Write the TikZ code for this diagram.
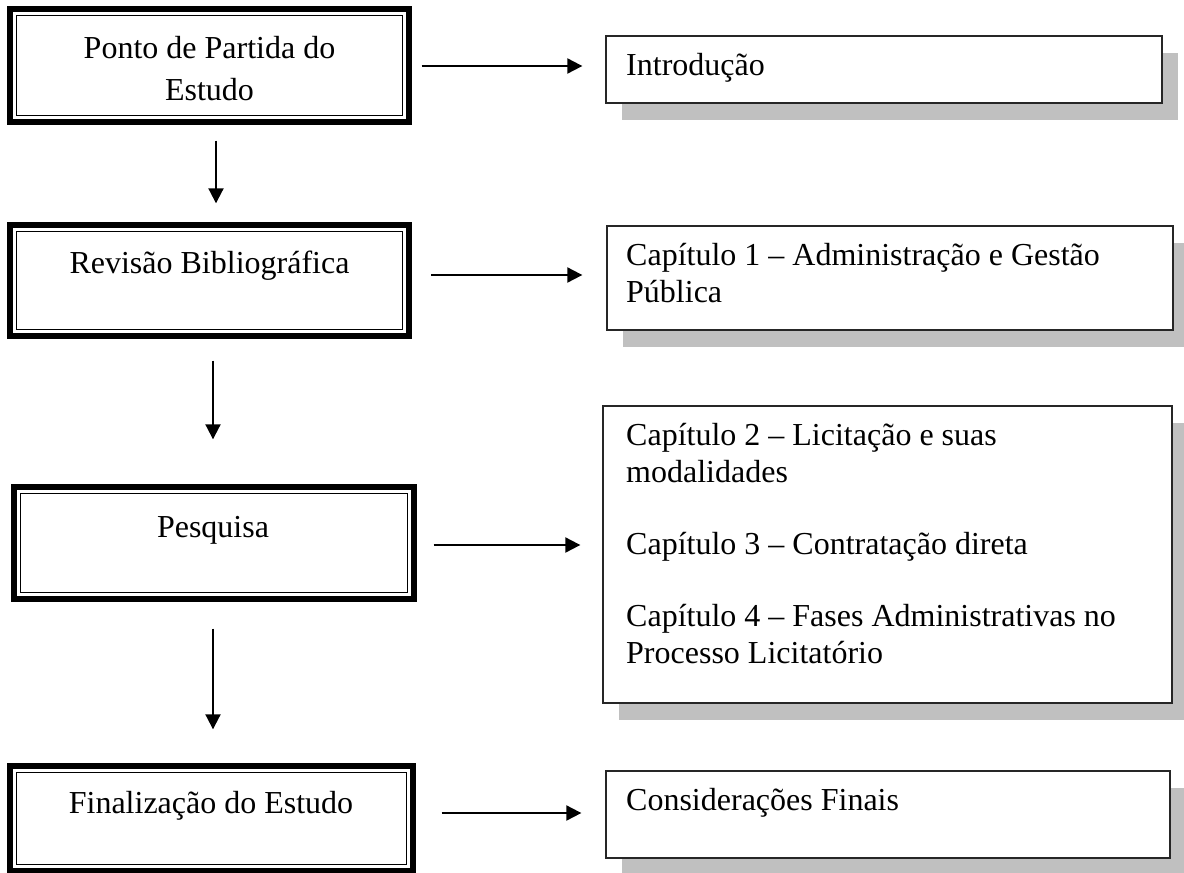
\documentclass[tikz,border=0pt]{standalone}
\usepackage{fontspec}
\setmainfont{Liberation Serif}
\usetikzlibrary{arrows.meta,shadows}
\definecolor{shadowgray}{HTML}{C0C0C0}
\begin{document}
\begin{tikzpicture}[x=1pt,y=-1pt,
  txt/.style={inner sep=0pt, font=\fontsize{32pt}{37pt}\selectfont},
  leftbox/.style={draw=black, line width=1.4pt, inner sep=0pt, fill=white},
  outerframe/.style={draw=black, line width=6pt},
  rightbox/.style={draw=black!85, line width=1.3pt, inner sep=0pt, fill=white,
    drop shadow={shadow xshift=16pt, shadow yshift=-17pt, opacity=1, fill=shadowgray, draw=none}},
  arr/.style={line width=2pt, -{Triangle[length=15pt,width=15pt]}}
]
\useasboundingbox (0,0) rectangle (1184,873);
\clip (0,0) rectangle (1184,873);
\fill[white] (0,0) rectangle (1184,873);

% left boxes
\node[leftbox, minimum width=386pt, minimum height=100pt] (b1) at (209.5,65.5) {};
\node[leftbox, minimum width=386pt, minimum height=98pt] (b2) at (209.5,280.5) {};
\node[leftbox, minimum width=387pt, minimum height=99pt] (b3) at (214,543) {};
\node[leftbox, minimum width=390pt, minimum height=92pt] (b4) at (211.5,818.5) {};
\foreach \n in {b1,b2,b3,b4}
  \draw[outerframe] ([shift={(-5.5,-5.5)}]\n.north west) rectangle ([shift={(5.5,5.5)}]\n.south east);

\node[txt, anchor=base] (t1a) at (209.5,58) {Ponto de Partida do};
\node[txt, anchor=base] (t1b) at (209.5,100) {Estudo};
\node[txt, anchor=base] (t2) at (209.5,273) {Revisão Bibliográfica};
\node[txt, anchor=base] (t3) at (213,537) {Pesquisa};
\node[txt, anchor=base] (t4) at (211,813) {Finalização do Estudo};

% right boxes
\node[rightbox, minimum width=556pt, minimum height=67pt] (i1) at (884,69.5) {};
\node[rightbox, minimum width=566pt, minimum height=104pt] (c1) at (890,278) {};
\node[rightbox, minimum width=569pt, minimum height=297pt] (c2) at (887.5,554.5) {};
\node[rightbox, minimum width=564pt, minimum height=87pt] (c4) at (888,814.5) {};

\node[txt, anchor=base west] (ti) at (626,75) {Introdução};
\node[txt, anchor=base west] (tc1a) at (626,265) {Capítulo 1 – Administração e Gestão};
\node[txt, anchor=base west] (tc1b) at (626,302) {Pública};
\node[txt, anchor=base west] (tc2a) at (626,445) {Capítulo 2 – Licitação e suas};
\node[txt, anchor=base west] (tc2b) at (626,482) {modalidades};
\node[txt, anchor=base west] (tc3) at (626,554) {Capítulo 3 – Contratação direta};
\node[txt, anchor=base west] (tc4a) at (626,626) {Capítulo 4 – Fases Administrativas no};
\node[txt, anchor=base west] (tc4b) at (626,663) {Processo Licitatório};
\node[txt, anchor=base west] (tc5) at (626,810) {Considerações Finais};

% horizontal arrows
\draw[arr] ([shift={(18.5,0.5)}]b1.east) -- ([shift={(-23,-3.5)}]i1.west);
\draw[arr] ([shift={(28,-5.5)}]b2.east) -- ([shift={(-24,-3)}]c1.west);
\draw[arr] ([shift={(25.5,2)}]b3.east) -- ([shift={(-22,-9.5)}]c2.west);
\draw[arr] ([shift={(34.5,-5.5)}]b4.east) -- ([shift={(-24,-1.5)}]c4.west);

% vertical arrows
\draw[arr] ([shift={(6.5,24.5)}]b1.south) -- ([shift={(6.5,-27.5)}]b2.north);
\draw[arr] ([shift={(3.5,30.5)}]b2.south) -- ([shift={(-1,-53.5)}]b3.north);
\draw[arr] ([shift={(-1,35.5)}]b3.south) -- ([shift={(1.5,-42.5)}]b4.north);
\end{tikzpicture}
\end{document}
